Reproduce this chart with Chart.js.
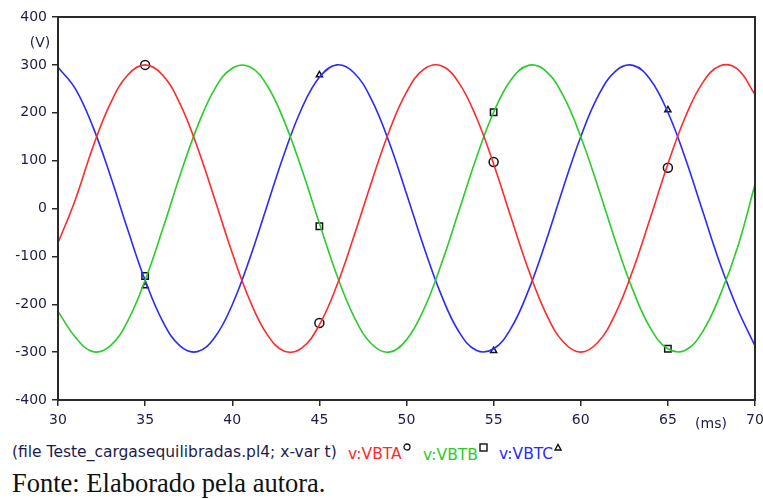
<!DOCTYPE html>
<html>
<head>
<meta charset="utf-8">
<script src="https://cdn.jsdelivr.net/npm/chart.js@4/dist/chart.umd.min.js"></script>
<style>
    html, body { margin: 0; padding: 0; background: #fff; }
    #wrap { position: relative; width: 763px; height: 499px; overflow: hidden; }
    #chart { position: absolute; left: 0; top: 0; }
    .lg {
        position: absolute; top: 443px;
        font-family: "DejaVu Sans", sans-serif; font-size: 15.5px; color: #1c1c4c;
        white-space: nowrap;
    }
    .lg.a { color: #ff2a2a; }
    .lg.b { color: #2acc2a; }
    .lg.c { color: #2a2aff; }
    .mk { display: inline-block; vertical-align: 8px; margin-left: 1px; }
    .fonte {
        position: absolute; left: 12px; top: 468px;
        font-family: "Liberation Serif", "Times New Roman", serif; font-size: 26.5px; color: #111;
        white-space: nowrap;
    }
</style>
</head>
<body>
<div id="wrap">
    <canvas id="chart" width="763" height="440"></canvas>
    <div class="lg" style="left:12px">(file Teste_cargasequilibradas.pl4; x-var t)</div>
    <div class="lg a" style="left:348px">v:VBTA<svg class="mk" width="8" height="8"><circle cx="4" cy="4" r="3" fill="none" stroke="#111" stroke-width="1.3"/></svg></div>
    <div class="lg b" style="left:423px">v:VBTB<svg class="mk" width="9" height="9"><rect x="1" y="1" width="7" height="7" fill="none" stroke="#111" stroke-width="1.4"/></svg></div>
    <div class="lg c" style="left:499px">v:VBTC<svg class="mk" width="8" height="8"><path d="M1 7 L4 1.5 L7 7 Z" fill="none" stroke="#111" stroke-width="1.4"/></svg></div>
    <div class="fonte">Fonte: Elaborado pela autora.</div>
</div>
<script>
(function () {
    // time axis (ms), one sample per ms
    const times = [30, 31, 32, 33, 34, 35, 36, 37, 38, 39, 40, 41, 42, 43, 44, 45, 46, 47, 48, 49,
        50, 51, 52, 53, 54, 55, 56, 57, 58, 59, 60, 61, 62, 63, 64, 65, 66, 67, 68, 69, 70];

    // voltages (V)
    const vbta = [-72, 19, 128, 219, 279, 300, 279, 219, 128, 19, -93, -191, -263, -298, -291, -243, -161, -56, 56, 161,
        243, 291, 298, 263, 191, 93, -19, -128, -219, -279, -300, -279, -219, -128, -19, 93, 191, 263, 298, 291, 238];
    const vbtb = [-215, -269, -299, -287, -235, -150, -44, 69, 171, 250, 293, 296, 257, 181, 81, -31, -139, -227, -283, -300,
        -274, -210, -116, -6, 105, 201, 269, 299, 287, 235, 150, 44, -69, -171, -250, -293, -296, -257, -181, -81, 50];
    const vbtc = [295, 250, 171, 69, -44, -150, -235, -287, -299, -269, -201, -105, 6, 116, 210, 274, 300, 283, 227, 139,
        31, -81, -181, -257, -296, -293, -250, -171, -69, 44, 150, 235, 287, 299, 269, 201, 105, -6, -116, -210, -287];

    // marker positions
    const markTimes = [35, 45, 55, 65];
    const markA = [300, -239, 97, 85];
    const markB = [-141, -37, 201, -293];
    const markC = [-162, 279, -297, 206];

    const xTicks = [30, 35, 40, 45, 50, 55, 60, 65, 70];
    const yTicks = [-400, -300, -200, -100, 0, 100, 200, 300, 400];

    const RED = '#ff2a2a';
    const GREEN = '#2acc2a';
    const BLUE = '#2a2aff';
    const TEXT = '#1c1c4c';
    const FONT = { family: '"DejaVu Sans", sans-serif', size: 14 };

    function pts(xs, ys) {
        return xs.map((x, i) => ({ x: x, y: ys[i] }));
    }

    function curve(label, values, color) {
        return {
            label: label,
            data: pts(times, values),
            borderColor: color,
            borderWidth: 1.6,
            pointRadius: 0,
            tension: 0.4,
            fill: false
        };
    }

    function markers(values, style, radius) {
        return {
            data: pts(markTimes, values),
            showLine: false,
            pointStyle: style,
            pointRadius: radius,
            pointBorderColor: '#111',
            pointBackgroundColor: '#fff',
            pointBorderWidth: 1.5
        };
    }

    // --- frame + unit labels ---
    const framePlugin = {
        id: 'frame',
        afterDraw(chart) {
            const a = chart.chartArea;
            const ctx = chart.ctx;
            ctx.save();
            ctx.strokeStyle = '#2a2a2a';
            ctx.lineWidth = 2;
            ctx.strokeRect(a.left, a.top, a.right - a.left, a.bottom - a.top);
            ctx.fillStyle = TEXT;
            ctx.font = '14px "DejaVu Sans", sans-serif';
            ctx.textAlign = 'center';
            ctx.textBaseline = 'middle';
            ctx.fillText('(V)', 40, 43);
            ctx.fillText('(ms)', 711, 424);
            ctx.restore();
        }
    };

    new Chart(document.getElementById('chart').getContext('2d'), {
        type: 'line',
        data: {
            datasets: [
                curve('v:VBTA', vbta, RED),
                curve('v:VBTB', vbtb, GREEN),
                curve('v:VBTC', vbtc, BLUE),
                markers(markA, 'circle', 4.5),
                markers(markB, 'rect', 4.5),
                markers(markC, 'triangle', 3.5)
            ]
        },
        options: {
            responsive: false,
            animation: false,
            layout: { padding: { top: 17, right: 8, left: 0, bottom: 0 } },
            plugins: { legend: { display: false }, tooltip: { enabled: false } },
            scales: {
                x: {
                    type: 'linear',
                    min: 30,
                    max: 70,
                    afterBuildTicks: s => { s.ticks = xTicks.map(v => ({ value: v })); },
                    afterFit: s => { s.height = 40; s.paddingLeft = 0; s.paddingRight = 0; },
                    grid: { drawOnChartArea: false, tickLength: 6, color: '#2a2a2a', lineWidth: 1.5 },
                    border: { color: '#2a2a2a', width: 2 },
                    ticks: { color: TEXT, font: FONT, padding: 6, maxRotation: 0 }
                },
                y: {
                    min: -400,
                    max: 400,
                    afterBuildTicks: s => { s.ticks = yTicks.map(v => ({ value: v })); },
                    afterFit: s => { s.width = 58; s.paddingTop = 0; s.paddingBottom = 0; },
                    grid: { drawOnChartArea: false, tickLength: 6, color: '#2a2a2a', lineWidth: 1.5 },
                    border: { color: '#2a2a2a', width: 2 },
                    ticks: { color: TEXT, font: FONT, padding: 5 }
                }
            }
        },
        plugins: [framePlugin]
    });
})();
</script>
</body>
</html>
